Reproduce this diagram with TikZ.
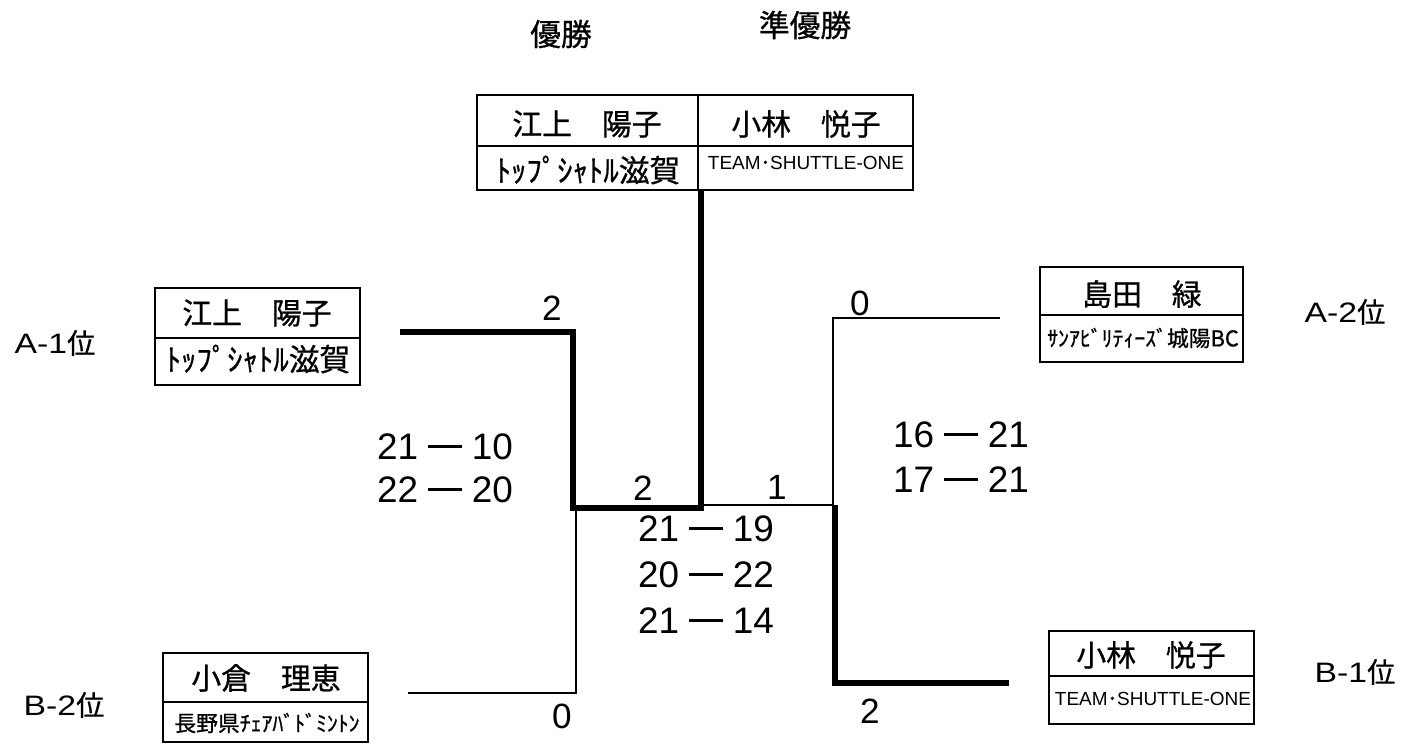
\documentclass[tikz,border=0pt]{standalone}
\usepackage{fontspec}
\setmainfont{Liberation Sans}
\newfontfamily\jp[FakeBold=0.8]{Noto Sans CJK JP}
\newfontfamily\wide[FakeStretch=1.2]{Liberation Sans}
\newcommand\vs{\hspace{0.28em}\rule[0.33em]{0.9em}{0.08em}\hspace{0.28em}}
\begin{document}
\begin{tikzpicture}[x=0.02cm,y=-0.02cm,
  frame/.style={line width=1.2pt},
  rule/.style={line width=0.6pt},
  thinline/.style={line width=1.1pt},
  thickline/.style={line width=3.4pt},
  heading/.style={font=\jp\fontsize{17.5}{20}\selectfont},
  player/.style={font=\jp\fontsize{17}{20}\selectfont},
  bigclub/.style={font=\jp\fontsize{17.5}{20}\selectfont},
  club/.style={font=\jp\fontsize{12.4}{15}\selectfont},
  team/.style={font=\fontsize{10.8}{13}\selectfont},
  rank/.style={font=\fontsize{16}{19}\selectfont},
  games/.style={font=\fontsize{20}{24}\selectfont},
  score/.style={font=\fontsize{21}{25}\selectfont}]
  \useasboundingbox (0,0) rectangle (1407,744);

  % result table
  \node[heading] (win) at (561,34) {優勝};
  \node[heading] (second) at (805,25) {準優勝};
  \draw[frame] (477,95) rectangle (913,190);
  \draw[frame] (698,95) -- (698,190);
  \draw[rule] (477,146) -- (913,146);
  \node[player] (champ) at (587,124) {江上　陽子};
  \node[bigclub] (champclub) at (588,170) {ﾄｯﾌﾟｼｬﾄﾙ滋賀};
  \node[player] (runner) at (806,124) {小林　悦子};
  \node[team] (runnerclub) at (806,163) {TEAM{\jp ･}SHUTTLE-ONE};

  % entries
  \draw[frame] (155,288) rectangle (360,385);
  \draw[rule] (155,338) -- (360,338);
  \node[player] (aone) at (257,313) {江上　陽子};
  \node[bigclub] (aoneclub) at (258,359) {ﾄｯﾌﾟｼｬﾄﾙ滋賀};

  \draw[frame] (163,653) rectangle (368,742);
  \draw[rule] (163,702) -- (368,702);
  \node[player] (btwo) at (266,678) {小倉　理恵};
  \node[club] (btwoclub) at (267,723) {長野県ﾁｪｱﾊﾞﾄﾞﾐﾝﾄﾝ};

  \draw[frame] (1040,267) rectangle (1243,362);
  \draw[rule] (1040,315) -- (1243,315);
  \node[player] (atwo) at (1142,294) {島田　緑};
  \node[club] (atwoclub) at (1143,338) {ｻﾝｱﾋﾞﾘﾃｨｰｽﾞ城陽BC};

  \draw[frame] (1049,631) rectangle (1254,724);
  \draw[rule] (1049,676) -- (1254,676);
  \node[player] (bone) at (1151,655) {小林　悦子};
  \node[team] (boneclub) at (1153,699) {TEAM{\jp ･}SHUTTLE-ONE};

  \node[rank] (ranka1) at (55,343) {{\wide A-1}{\jp 位}};
  \node[rank] (rankb2) at (64,705) {{\wide B-2}{\jp 位}};
  \node[rank] (ranka2) at (1345,312) {{\wide A-2}{\jp 位}};
  \node[rank] (rankb1) at (1355,672) {{\wide B-1}{\jp 位}};

  % bracket
  \coordinate (ina1) at (400,332);
  \coordinate (inb2) at (408,693);
  \coordinate (ina2) at (1000,318);
  \coordinate (inb1) at (1009,683);
  \coordinate (semil) at (573,508);
  \coordinate (semir) at (835,505);
  \coordinate (final) at (701,508);
  \draw[thickline] (ina1) -| (semil) -- (final) -- (701,190);
  \draw[thinline] (inb2) -| (576,508);
  \draw[thinline] (ina2) -| (833,505) -- (701,505);
  \draw[thickline] (inb1) -| (semir);

  % games won
  \node[games] (ga1) at (552,308) {2};
  \node[games] (gb2) at (562,716) {0};
  \node[games] (ga2) at (860,303) {0};
  \node[games] (gb1) at (870,711) {2};
  \node[games] (gfl) at (643,488) {2};
  \node[games] (gfr) at (777,487) {1};

  % scores
  \node[score] (sl1) at (445,447) {21\vs 10};
  \node[score] (sl2) at (445,490) {22\vs 20};
  \node[score] (sr1) at (961,435) {16\vs 21};
  \node[score] (sr2) at (961,480) {17\vs 21};
  \foreach \s [count=\i] in {21\vs 19, 20\vs 22, 21\vs 14}
    \node[score] (sf\i) at (706,{529+46*(\i-1)}) {\s};

\end{tikzpicture}
\end{document}
